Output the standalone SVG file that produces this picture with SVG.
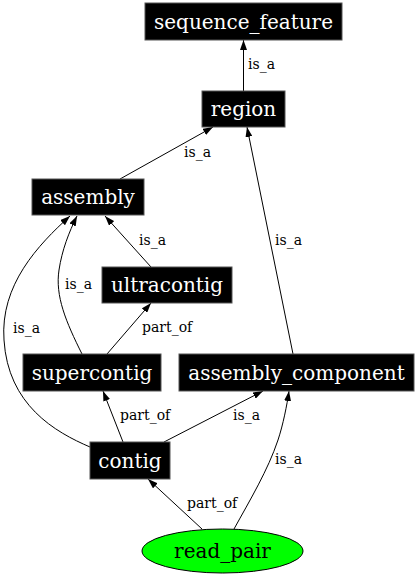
<svg xmlns="http://www.w3.org/2000/svg" width="418" height="576" viewBox="0 0 418 576">
<style>
.n rect{fill:#000;stroke:#555;stroke-width:1}
.n text{fill:#fff;font-family:"DejaVu Serif",serif;font-size:20px;text-anchor:middle}
.e path{fill:none;stroke:#000;stroke-width:1}
.e text{fill:#000;font-family:"DejaVu Serif",serif;font-size:14px}
</style>
<defs>
<marker id="ah" markerWidth="10" markerHeight="7" refX="10" refY="3.5" orient="auto" markerUnits="userSpaceOnUse">
<path d="M0,0 L10,3.5 L0,7 Z" fill="#000"/>
</marker>
</defs>
<rect width="418" height="576" fill="#fff"/>
<g class="e" id="edges">
<path d="M243.5,91 L243.5,40" marker-end="url(#ah)"/>
<text x="248" y="69">is_a</text>
<path d="M120,179 L213,127" marker-end="url(#ah)"/>
<text x="184" y="157">is_a</text>
<path d="M293,354 L247,127" marker-end="url(#ah)"/>
<text x="275" y="245">is_a</text>
<path d="M151,267 L105,216" marker-end="url(#ah)"/>
<text x="139" y="245">is_a</text>
<path d="M82,354 C66,322 55,296 59,270 C62,250 69,232 77,216" marker-end="url(#ah)"/>
<text x="65" y="289">is_a</text>
<path d="M90,447 C55,432 8,405 4,340 C0,285 38,245 70,216" marker-end="url(#ah)"/>
<text x="13" y="333">is_a</text>
<path d="M107,354 L151,303" marker-end="url(#ah)"/>
<text x="142" y="332">part_of</text>
<path d="M123,442 L103,391" marker-end="url(#ah)"/>
<text x="120" y="420">part_of</text>
<path d="M164,442 L263,391" marker-end="url(#ah)"/>
<text x="233" y="420">is_a</text>
<path d="M202,529 L148,479" marker-end="url(#ah)"/>
<text x="187" y="508">part_of</text>
<path d="M234,529 C250,500 268,470 278,440 C283,425 287,405 289,391" marker-end="url(#ah)"/>
<text x="275" y="464">is_a</text>
</g>
<g class="n" id="sequence_feature"><rect x="145" y="3" width="197" height="37"/><text x="243.5" y="28.5">sequence_feature</text></g>
<g class="n" id="region"><rect x="202" y="91" width="83" height="36"/><text x="243.5" y="116">region</text></g>
<g class="n" id="assembly"><rect x="32" y="179" width="112" height="36"/><text x="88" y="204">assembly</text></g>
<g class="n" id="ultracontig"><rect x="102" y="267" width="130" height="36"/><text x="167" y="292">ultracontig</text></g>
<g class="n" id="supercontig"><rect x="23" y="354" width="138" height="37"/><text x="92" y="379.5">supercontig</text></g>
<g class="n" id="assembly_component"><rect x="179" y="354" width="235" height="37"/><text x="296.5" y="379.5">assembly_component</text></g>
<g class="n" id="contig"><rect x="90" y="442" width="80" height="37"/><text x="130" y="467.5">contig</text></g>
<g id="read_pair"><ellipse cx="222.5" cy="551" rx="80.5" ry="22" fill="#00ff00" stroke="#000" stroke-width="1"/><text x="222.5" y="558" style="fill:#000;font-family:'DejaVu Serif',serif;font-size:20px;text-anchor:middle">read_pair</text></g>
</svg>
